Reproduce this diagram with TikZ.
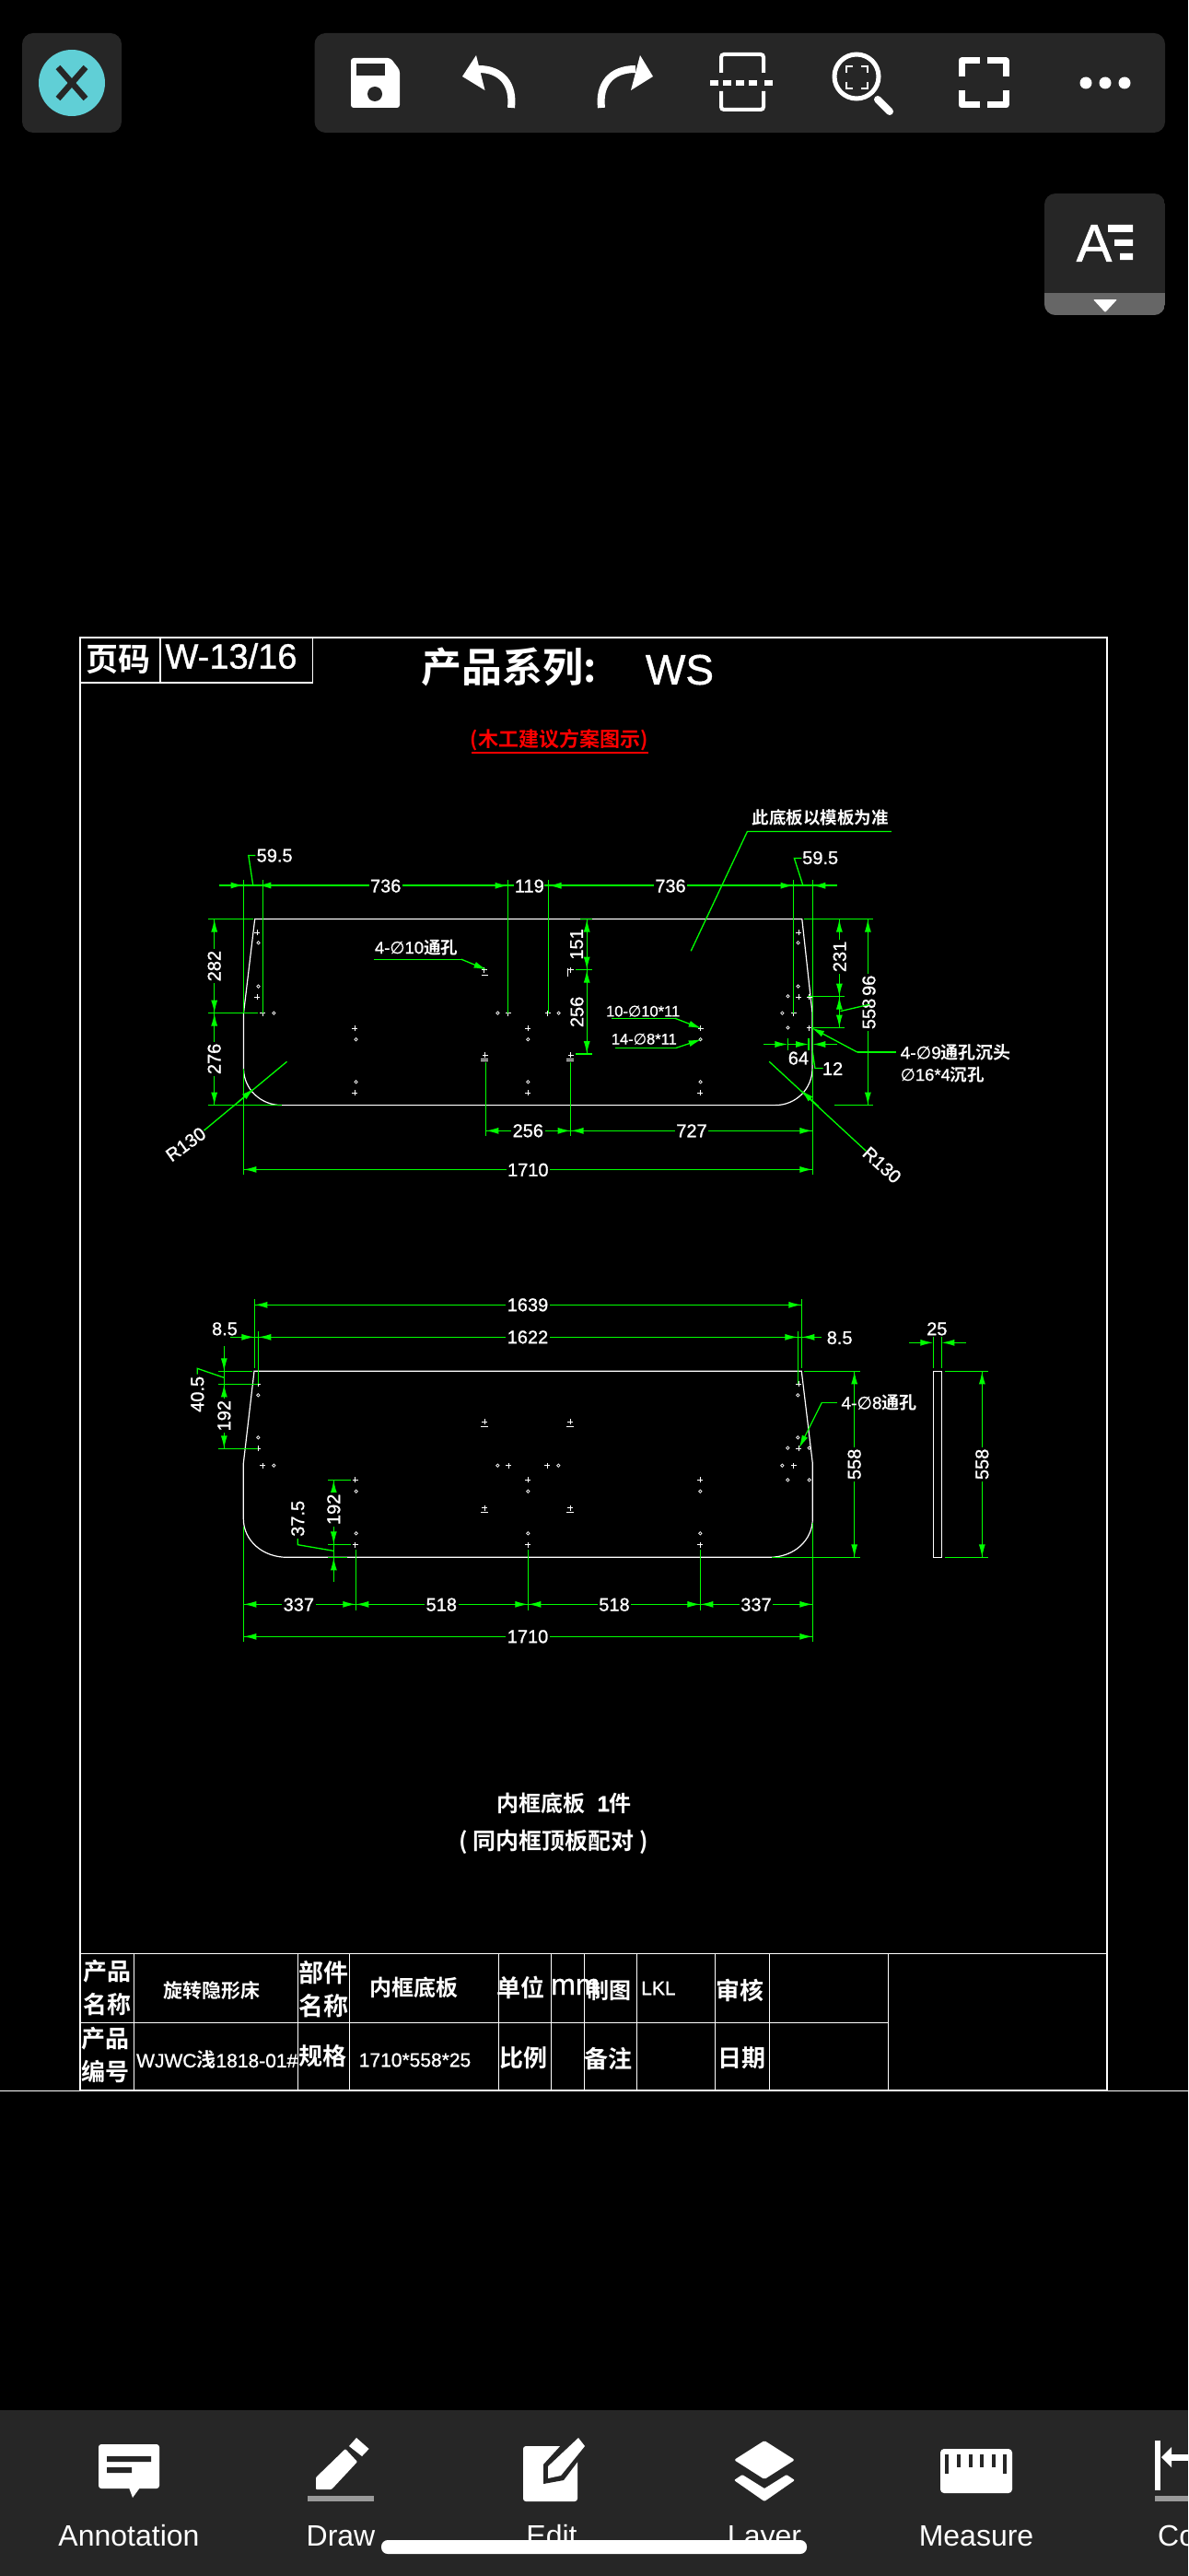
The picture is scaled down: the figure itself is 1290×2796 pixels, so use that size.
\documentclass[tikz,border=0pt]{standalone}
\usepackage{fontspec}
\setmainfont{Liberation Sans}
\newfontfamily\cadf[FakeBold=1.0]{Liberation Sans}
\newfontfamily\uif{Liberation Sans}
\newfontfamily\cj[BoldFont={Noto Sans CJK SC Bold}]{Noto Sans CJK SC}
\newfontfamily\dv[FakeBold=0.6]{DejaVu Sans}
\usetikzlibrary{arrows.meta}
\definecolor{cadg}{RGB}{0,255,0}
\definecolor{panel}{RGB}{38,38,38}
\definecolor{teal}{RGB}{96,207,214}
\definecolor{band}{RGB}{102,102,102}
\definecolor{ugray}{RGB}{153,153,153}
\newcommand{\dia}{{\dv ∅}}
\newcommand{\fs}[1]{\fontsize{#1}{#1}\selectfont}
\tikzset{
 z2/.style={shift={(80,680)},x=0.38270pt,y=-0.40816pt},
 z3/.style={shift={(640,680)},x=0.38270pt,y=-0.40816pt},
 z4/.style={shift={(170,1390)},x=0.33333pt,y=-0.33333pt},
 z5/.style={shift={(650,1390)},x=0.33333pt,y=-0.33333pt},
 gl/.style={draw=cadg,line width=1.3pt},
 ar/.style={gl,-{Latex[length=14pt,width=7pt]}},
 wl/.style={draw=white,line width=1.2pt},
 frameline/.style={draw=white,line width=2.2pt},
 hole/.style={draw=white,line width=0.8pt},
 dimt/.style={text=white,font=\cadf\fs{20},inner sep=1.5pt},
 dimf/.style={dimt,fill=black},
 lab/.style={text=white,font=\cadf\fs{16.5},inner sep=0pt},
 tab/.style={text=white,font=\cj\bfseries\fs{26},inner sep=0pt},
 tabt/.style={text=white,font=\cadf\fs{21},inner sep=0pt},
 uilab/.style={text=white,font=\uif\fs{32},inner sep=0pt,anchor=base},
 icon/.style={fill=white,draw=none},
 iline/.style={draw=white,line cap=round,line join=round},
}
\newcommand{\hplus}[1]{\draw[hole] #1 +(-3pt,0)--+(3pt,0) +(0,-3pt)--+(0,3pt);}
\newcommand{\hdia}[1]{\draw[hole,line width=0.7pt] #1 +(1.7pt,0)--+(0,1.7pt)--+(-1.7pt,0)--+(0,-1.7pt)--cycle;}
\begin{document}
\begin{tikzpicture}[x=1pt,y=-1pt]
\fill[black] (0,0) rectangle (1290,2796);
\useasboundingbox (0,0) rectangle (1290,2796);

%% ---------- top chrome
\fill[panel,rounded corners=12pt] (24,36) rectangle (132,144);
\fill[teal] (78,90) circle (36);
\draw[panel,line width=6.5pt] (63,73)--(93,107) (93,73)--(63,107);
\fill[panel,rounded corners=12pt] (341.5,36) rectangle (1265,144);
% save
\fill[white,rounded corners=3pt] (381,63)--(424,63)--(434,76)--(434,117)--(381,117)--cycle;
\fill[panel] (387,69) rectangle (418,82);
\fill[panel] (407,102) circle (8);
% undo
\fill[white,line join=round] (517,60)--(502,83)--(526.5,98)--cycle;
\draw[white,line width=8pt] (555,117) .. controls (558,92) and (545,75) .. (520,75);
% redo
\fill[white,line join=round] (695,60)--(709,83)--(685,98)--cycle;
\draw[white,line width=8pt] (653,117) .. controls (650,92) and (663,75) .. (690,75);
% split
\draw[white,line width=4pt,rounded corners=3pt] (783,79)--(783,59)--(829,59)--(829,79);
\draw[white,line width=4pt,rounded corners=3pt] (783,99)--(783,119)--(829,119)--(829,99);
\foreach \xx in {771,785,799,813,830} \fill[white] (\xx,87) rectangle +(9,6);
% zoom
\draw[white,line width=5pt] (930,83) circle (24);
\draw[white,line width=8pt,line cap=round] (953,108)--(966,121);
\draw[white,line width=2.2pt] (919,79)--(919,72)--(926,72) (935,72)--(942,72)--(942,79) (919,89)--(919,96)--(926,96) (935,96)--(942,96)--(942,89);
% fullscreen
\draw[white,line width=7pt,line join=round] (1044,83)--(1044,66)--(1064,66) (1072,66)--(1092,66)--(1092,83) (1044,98)--(1044,114)--(1064,114) (1072,114)--(1092,114)--(1092,98);
% dots
\foreach \xx in {1179,1200,1221} \fill[white] (\xx,90) circle (6.5);
% text-size panel
\begin{scope}
\clip[rounded corners=12pt] (1134,210) rectangle (1265,342);
\fill[panel] (1134,210) rectangle (1265,342);
\fill[band] (1134,318) rectangle (1265,342);
\end{scope}
\fill[white,rounded corners=1pt] (1187,325)--(1213,325)--(1200,339)--cycle;
\node[text=white,font=\cadf\fs{58},inner sep=0pt] (aeA) at (1188,264) {A};
\fill[white] (1203,244) rectangle (1230,252) (1210,260) rectangle (1230,267) (1216,275) rectangle (1230,282);

%% ---------- sheet frame
\draw[white,line width=0.8pt] (0,2269.5)--(1290,2269.5);
\draw[frameline] (87,692) rectangle (1202,2269);
\draw[wl] (87,741)--(339.5,741)--(339.5,692) (174,692)--(174,741);
\node[text=white,font=\cj\bfseries\fs{35},inner sep=0pt] (pagelab) at (128,716) {页码};
\node[text=white,font=\cadf\fs{38},inner sep=0pt] (pageno) at (251,712) {W-13/16};
\node[text=white,font=\cj\bfseries\fs{44},inner sep=0pt,anchor=west] (series) at (457,724) {产品系列:};
\node[text=white,font=\cadf\fs{46},inner sep=0pt] (seriesv) at (738,727) {WS};
\node[text=red,font=\cj\bfseries\fs{22},inner sep=0pt] (redt) at (607,803) {(木工建议方案图示)};
\draw[red,line width=1.1pt] (512,817)--(704,817);

%% ---------- upper part outline
\draw[wl] (276.7,997.5)--(870.8,997.5)--(882,1099.6)--(882,1159.6) .. controls (882,1182) and (864,1199.6) .. (841.7,1199.6)--(305.8,1199.6) .. controls (283,1199.6) and (264.5,1182) .. (264.5,1159.6)--(264.5,1099.6)--cycle;

%% upper, left half
\begin{scope}[z2]
\foreach \c in {(521,814),(521,985),(536,1028),(798,1069),(798,1240),(1165,913),(1233,1028),(1345,1028),(1289,1069),(1289,1240),(1167,1140),(1410,1140),(1410,913)} {\hplus{\c}}
\foreach \c in {(524,841),(524,957),(568,1028),(801,1098),(801,1211),(1203,1028),(1376,1028),(1289,1098),(1289,1211)} {\hdia{\c}}
\draw[hole] (1157,927)--(1175,927) (1155,1150)--(1177,1150) (1155,1156)--(1177,1156) (1398,1150)--(1420,1150) (1398,1156)--(1420,1156) (1401,908)--(1401,930);
% extension lines
\draw[gl] (482,674)--(482,1028) (482,1175)--(482,1458) (537,674)--(537,1028) (1232,674)--(1232,1028) (1347,674)--(1347,1028);
\draw[gl] (382,778)--(510,778) (382,1028)--(523,1028) (382,1273)--(590,1273);
\draw[gl] (1437,778)--(1470,778) (1425,913)--(1470,913) (1425,1137)--(1470,1137);
\draw[gl] (1169,1158)--(1169,1356) (1410,1158)--(1410,1356);
% 59.5 leader
\draw[gl] (516,609)--(496,609)--(509,689);
% vertical dims
\draw[gl] (399,778)--(399,1273);
\draw[ar] (399,840)--(399,778); \draw[ar] (399,965)--(399,1028); \draw[ar] (399,1090)--(399,1028); \draw[ar] (399,1210)--(399,1273);
\node[dimf,rotate=90] (d282) at (399,903) {282};
\node[dimf,rotate=90] (d276) at (399,1150) {276};
\draw[gl] (1456,778)--(1456,1137);
\draw[ar] (1456,840)--(1456,778); \draw[ar] (1456,850)--(1456,913); \draw[ar] (1456,975)--(1456,913); \draw[ar] (1456,1075)--(1456,1137);
\node[dimt,rotate=90] (d151) at (1427,845) {151};
\node[dimt,rotate=90] (d256v) at (1428,1025) {256};
% R130
\coordinate (ra) at (605,1157); \coordinate (rb) at (370,1340);
\draw[gl] (ra)--(rb);
\draw[ar] (455,1274)--(512,1228);
\node[dimt,rotate=36] (r130a) at (318,1377) {R130};
% 4-10
\node[lab,font=\cadf\fs{18.5}] (l4d10) at (972,853) {4-\dia10{\cj\bfseries 通孔}};
\draw[gl] (852,885)--(1100,885);
\draw[ar] (1100,885)--(1172,913);
\end{scope}

%% upper, right half
\begin{scope}[z3]
\foreach \c in {(594,814),(594,985),(579,1028),(624,985),(624,1067),(315,1068),(314,1240)} {\hplus{\c}}
\foreach \c in {(592,841),(592,957),(563,983),(547,1028),(563,1067),(315,1098),(315,1211)} {\hdia{\c}}
\draw[gl] (579,674)--(579,1028) (633,674)--(633,1165) (633,1175)--(633,1458);
\draw[gl] (610,778)--(805,778) (620,984)--(724,984) (630,1067)--(724,1067) (695,1273)--(805,1273);
\draw[gl] (602,616)--(581,616)--(606,689);
\draw[gl] (709,778)--(709,1067);
\draw[ar] (709,840)--(709,778); \draw[ar] (709,922)--(709,984); \draw[ar] (709,1045)--(709,984); \draw[ar] (709,1005)--(709,1067);
\node[dimf,rotate=90] (d231) at (710,878) {231};
\draw[gl] (790,778)--(790,1273);
\draw[ar] (790,840)--(790,778); \draw[ar] (790,1210)--(790,1273);
\node[dimf,rotate=90] (d96) at (793,955) {96};
\node[dimf,rotate=90] (d558a) at (793,1030) {558};
\draw[gl] (795,1005)--(712,1023);
% 64 / 12
\draw[gl] (563,1095)--(563,1128) (622,1095)--(622,1128);
\draw[ar] (495,1111)--(563,1111);
\draw[ar] (563,1111)--(622,1111);
\draw[ar] (703,1111)--(633,1111);
\node[dimt] (d64) at (593,1148) {64};
\node[dimt] (d12) at (690,1176) {12};
\draw[gl] (663,1175)--(640,1175)--(633,1130);
% 4-9 leader
\draw[gl] (870,1132)--(760,1132);
\draw[ar] (760,1132)--(630,1067);
\node[lab,anchor=west,font=\cadf\fs{19}] (l4d9) at (882,1132) {4-\dia9{\cj\bfseries 通孔沉头}};
\node[lab,anchor=west,font=\cadf\fs{18.5}] (l16) at (882,1191) {\dia16*4{\cj\bfseries 沉孔}};
% R130 right
\coordinate (rc) at (510,1157); \coordinate (rd) at (785,1395);
\draw[gl] (rc)--(rd);
\draw[ar] (650,1276)--(600,1233);
\node[dimt,rotate=-42] (r130b) at (830,1432) {R130};
% note
\node[text=white,font=\cj\bfseries\fs{18.5},inner sep=0pt] (note) at (655,508) {此底板以模板为准};
\draw[gl] (857,545)--(448,545)--(288,863);
% 10-10, 14-8
\node[lab] (l10) at (152,1023) {10-\dia10*11};
\draw[gl] (63,1042)--(243,1042);
\draw[ar] (243,1042)--(318,1069);
\node[lab] (l14) at (155,1097) {14-\dia8*11};
\draw[gl] (72,1121)--(245,1121);
\draw[ar] (245,1121)--(318,1098);
\end{scope}

%% upper dims crossing both halves (px)
\draw[gl] (238,961)--(909,961);
\draw[ar] (238,961)--(264.5,961);
\draw[ar] (300,961)--(280.3,961);
\begin{scope}[z2]
\draw[ar] (1170,689)--(1232,689);
\draw[ar] (1410,689)--(1347,689);
\node[dimf] (d736a) at (885,690) {736};
\node[dimf,inner sep=0.5pt] (d119) at (1293,690) {119};
\end{scope}
\begin{scope}[z3]
\draw[ar] (515,689)--(579,689);
\draw[ar] (695,689)--(633,689);
\node[dimf] (d736b) at (230,690) {736};
\node[dimt] (d595b) at (655,615) {59.5};
\end{scope}
\begin{scope}[z2]
\node[dimt] (d595a) at (570,609) {59.5};
\end{scope}
% 256 / 727 line, 1710 line
\draw[gl] (527.4,1227.3)--(882,1227.3);
\draw[gl] (264.5,1269.4)--(882,1269.4);
\begin{scope}[z2]
\draw[ar] (1230,1341)--(1169,1341);
\draw[ar] (1350,1341)--(1410,1341);
\draw[ar] (1470,1341)--(1410,1341);
\draw[ar] (545,1444)--(482,1444);
\node[dimf] (d256h) at (1289,1341) {256};
\node[dimf] (d1710a) at (1289,1445) {1710};
\end{scope}
\begin{scope}[z3]
\draw[ar] (570,1341)--(633,1341);
\draw[ar] (570,1444)--(633,1444);
\node[dimf] (d727) at (290,1341) {727};
\end{scope}

%% ---------- lower part outline
\draw[wl] (276,1488.3)--(870.3,1488.3)--(882.3,1588.3)--(882.3,1648.3) .. controls (882.3,1672) and (862,1690.3) .. (835.3,1690.3)--(311.7,1690.3) .. controls (285,1690.3) and (264.3,1672) .. (264.3,1648.3)--(264.3,1588.3)--cycle;

\begin{scope}[z4]
\foreach \c in {(331,337),(331,547),(346,602),(1147,602),(1273,602),(647,649),(1209,649),(647,860),(1209,860),(1069,460),(1347,460),(1069,740),(1347,740)} {\hplus{\c}}
\foreach \c in {(331,373),(331,511),(382,602),(1111,602),(1309,602),(650,686),(1210,686),(650,823),(1210,823)} {\hdia{\c}}
\draw[hole] (1056,474)--(1080,474) (1335,474)--(1359,474) (1056,754)--(1080,754) (1335,754)--(1359,754);
\draw[gl] (319,60)--(319,285) (331,165)--(331,337);
\draw[gl] (202,295)--(312,295) (202,337)--(331,337) (202,547)--(331,547);
\draw[gl] (220,213)--(220,547);
\draw[ar] (220,213)--(220,295); \draw[ar] (220,400)--(220,337); \draw[ar] (220,485)--(220,547);
\node[dimf,rotate=90] (d192a) at (220,440) {192};
\node[dimt,rotate=90] (d405) at (133,370) {40.5};
\draw[gl] (133,305)--(133,286)--(220,316);
\draw[gl] (558,649)--(634,649) (558,859)--(634,859) (558,901)--(620,901);
\draw[gl] (577,649)--(577,980);
\draw[ar] (577,710)--(577,649); \draw[ar] (577,798)--(577,859); \draw[ar] (577,980)--(577,901);
\node[dimf,rotate=90] (d192b) at (577,745) {192};
\node[dimt,rotate=90] (d375) at (460,775) {37.5};
\draw[gl] (460,840)--(460,860)--(577,880);
\draw[gl] (283,800)--(283,1175) (649,877)--(649,1073) (1210,877)--(1210,1073);
\draw[ar] (240,184)--(319,184);
\draw[ar] (385,184)--(331,184);
\draw[ar] (380,79)--(319,79);
\draw[ar] (345,1054)--(283,1054); \draw[ar] (590,1054)--(649,1054); \draw[ar] (710,1054)--(649,1054);
\draw[ar] (1150,1054)--(1210,1054); \draw[ar] (1270,1054)--(1210,1054);
\draw[ar] (345,1159)--(283,1159);
\end{scope}

\begin{scope}[z5]
\foreach \c in {(652,337),(652,547),(635,602),(330,649),(330,860)} {\hplus{\c}}
\foreach \c in {(649,373),(649,511),(616,545),(686,545),(598,602),(616,649),(686,649),(331,686),(331,823)} {\hdia{\c}}
\draw[gl] (661,60)--(661,285) (649,165)--(649,337);
\draw[gl] (670,295)--(852,295) (565,901)--(852,901);
\draw[gl] (833,295)--(833,901);
\draw[ar] (833,360)--(833,295); \draw[ar] (833,835)--(833,901);
\node[dimf,rotate=90] (d558b) at (833,598) {558};
\draw[gl] (777,397)--(727,397);
\draw[ar] (727,397)--(653,545);
\node[lab,anchor=west,font=\cadf\fs{19}] (l4d8) at (790,397) {4-\dia8{\cj\bfseries 通孔}};
\draw[gl] (331,877)--(331,1073) (697,790)--(697,1175);
\draw[ar] (600,79)--(661,79);
\draw[ar] (590,184)--(649,184);
\draw[ar] (725,184)--(661,184);
\draw[ar] (270,1054)--(331,1054); \draw[ar] (395,1054)--(331,1054); \draw[ar] (636,1054)--(697,1054);
\draw[ar] (636,1159)--(697,1159);
% side piece
\draw[wl] (1090,295) rectangle (1117,901);
\draw[gl] (1090,182)--(1090,285) (1117,182)--(1117,285);
\draw[gl] (1128,295)--(1268,295) (1128,901)--(1268,901) (1249,295)--(1249,901);
\draw[ar] (1012,202)--(1090,202);
\draw[ar] (1197,202)--(1117,202);
\draw[ar] (1249,360)--(1249,295); \draw[ar] (1249,835)--(1249,901);
\node[dimf,rotate=90] (d558c) at (1249,598) {558};
\node[dimt] (d25) at (1102,157) {25};
\node[dimt] (d85b) at (785,186) {8.5};
\end{scope}
% lower long dim lines
\draw[gl] (276.3,1416.3)--(870.3,1416.3);
\draw[gl] (250,1451.3)--(884.3,1451.3);
\draw[gl] (264.3,1741.3)--(882.3,1741.3);
\draw[gl] (264.3,1776.3)--(882.3,1776.3);
\begin{scope}[z4]
\node[dimf] (d1639) at (1209,79) {1639};
\node[dimf] (d1622) at (1209,184) {1622};
\node[dimt] (d85a) at (222,157) {8.5};
\node[dimf] (d337a) at (463,1055) {337};
\node[dimf] (d518a) at (928,1055) {518};
\node[dimf] (d1710b) at (1209,1159) {1710};
\end{scope}
\begin{scope}[z5]
\node[dimf] (d518b) at (51,1055) {518};
\node[dimf] (d337b) at (513,1055) {337};
\end{scope}

%% ---------- captions
\node[text=white,font=\cj\bfseries\fs{24},inner sep=0pt,anchor=west] (cap1) at (539,1957) {内框底板{\cadf\ \ 1}件};
\node[text=white,font=\cj\bfseries\fs{25},inner sep=0pt] (cap2) at (601,1999) {( 同内框顶板配对 )};

%% ---------- title block
\draw[wl] (87,2120.3)--(1202,2120.3) (87,2195.3)--(964.4,2195.3);
\foreach \xx in {145.4,323.3,379.6,541.5,598.5,634.5,691.5,776.5,835.5,964.4} \draw[wl] (\xx,2120.3)--(\xx,2269);
\node[tab] (t1) at (116.7,2140) {产品};
\node[tab] (t2) at (116.7,2176) {名称};
\node[tab] (t3) at (114,2213) {产品};
\node[tab] (t4) at (114,2248) {编号};
\node[tab,font=\cj\bfseries\fs{21}] (t5) at (229.6,2160) {旋转隐形床};
\node[tab,font=\cj\bfseries\fs{27}] (t6) at (351,2141) {部件};
\node[tab,font=\cj\bfseries\fs{27}] (t7) at (351,2177) {名称};
\node[tab,font=\cj\bfseries\fs{24}] (t8) at (449,2157) {内框底板};
\node[tab] (t9) at (565.6,2157) {单位};
\node[text=white,font=\cadf\fs{32},inner sep=0pt,anchor=base west] (t10) at (598,2165) {mm};
\node[tab,font=\cj\bfseries\fs{24}] (t11) at (661.6,2160) {制图};
\node[tabt,anchor=west] (t12) at (696,2158) {LKL};
\node[tab] (t13) at (803,2160) {审核};
\node[tabt,anchor=west] (t14) at (148,2236) {WJWC{\cj\bfseries 浅}1818-01\#};
\node[tab] (t15) at (350,2232) {规格};
\node[tabt,anchor=west] (t16) at (389.6,2236) {1710*558*25};
\node[tab] (t17) at (568.7,2234) {比例};
\node[tab] (t18) at (660,2235) {备注};
\node[tab] (t19) at (805,2234) {日期};

%% ---------- bottom chrome
\fill[panel] (0,2616) rectangle (1290,2796);
% annotation
\fill[white,rounded corners=3pt] (107,2653) rectangle (173,2701);
\fill[white] (140,2700)--(152,2700)--(144,2711)--cycle;
\fill[panel] (116,2666) rectangle (164,2672) (116,2678) rectangle (143,2684);
% draw
\fill[white,rounded corners=1pt] (343,2689)--(375,2658)--(388,2672)--(360,2702)--(343,2702)--cycle;
\fill[white] (387,2646)--(400.6,2658)--(393,2666)--(379,2655)--cycle;
\fill[ugray] (334,2709) rectangle (405.6,2715);
% edit
\fill[white,rounded corners=3pt] (568,2655) rectangle (627,2715);
\fill[panel] (636,2640)--(640,2655)--(612,2692)--(590,2696)--(590,2675)--(622,2640)--cycle;
\fill[white] (628,2646)--(635,2655)--(609,2687)--(595,2690)--(595,2677)--cycle;
% layer
\fill[white,rounded corners=1.5pt] (830,2649)--(863,2670)--(830,2691)--(797,2670)--cycle;
\fill[white,rounded corners=1pt] (797,2692)--(806,2686)--(830,2701)--(854,2686)--(863,2692)--(830,2715)--cycle;
% measure
\fill[white,rounded corners=4pt] (1021,2658) rectangle (1099,2706);
\foreach \xx/\yy in {1028/2685,1041/2678,1054/2678,1066/2678,1079/2678,1091/2685} \fill[panel] (\xx-1.8,2664) rectangle (\xx+1.8,\yy);
% compare
\fill[white] (1254,2649) rectangle (1260,2703);
\fill[white] (1261,2667)--(1272,2656)--(1272,2678)--cycle;
\fill[white] (1270,2663.5) rectangle (1290,2670.5);
\fill[ugray] (1254,2709) rectangle (1290,2715);
% labels
\node[uilab] (ua) at (140,2763) {Annotation};
\node[uilab] (ud) at (370,2763) {Draw};
\node[uilab] (ue) at (599,2763) {Edit};
\node[uilab] (ul) at (830,2763) {Layer};
\node[uilab] (um) at (1060,2763) {Measure};
\node[uilab,anchor=base west] (uc) at (1257,2763) {Co};
\fill[white,rounded corners=7pt] (414,2757) rectangle (876,2772);
\end{tikzpicture}
\end{document}
